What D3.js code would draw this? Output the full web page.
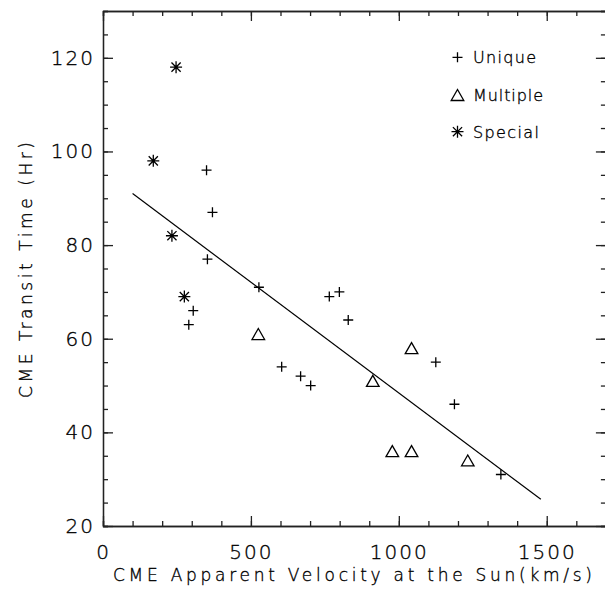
<!DOCTYPE html>
<html>
<head>
<meta charset="utf-8">
<script src="https://cdn.jsdelivr.net/npm/d3@7"></script>
<style>
body { margin: 0; background: #fff; }
text { font-family: "DejaVu Sans", sans-serif; font-weight: 200; fill: #000; stroke: #000; stroke-width: 0.35; }
.axis path, .axis line { stroke: #222; stroke-width: 1.3; }
</style>
</head>
<body>
<script>
// velocities (km/s) and transit times (hr)
var uniqueVel = [350, 370, 353, 527, 305, 290, 604, 668, 702, 765, 799, 829, 1125, 1188, 1345];
var uniqueHr  = [96, 87, 77, 71, 66, 63, 54, 52, 50, 69, 70, 64, 55, 46, 31];
var multipleVel = [525, 912, 1043, 978, 1043, 1233];
var multipleHr  = [61, 51, 58, 36, 36, 34];
var specialVel = [247, 170, 233, 275];
var specialHr  = [118, 98, 82, 69];
// fitted line end points
var fitVel = [100, 1480];
var fitHr  = [91, 25.7];

var xMajor = [0, 500, 1000, 1500];
var yMajor = [20, 40, 60, 80, 100, 120];
var legendNames = ["Unique", "Multiple", "Special"];

var margin = {top: 11, right: -1, bottom: 71, left: 103},
    width = 605.9 - margin.left,
    height = 526 - margin.top;

var x = d3.scaleLinear().domain([0, 1700]).range([0, width]),
    y = d3.scaleLinear().domain([20, 130]).range([height, 0]);

var svg = d3.select("body").append("svg")
    .attr("width", 605)
    .attr("height", 597)
  .append("g")
    .attr("transform", "translate(" + margin.left + "," + margin.top + ")");

var symbols = {
  Unique: "M-5,0H5M0,-5V5",
  Multiple: "M-6.3,5.5L0,-5.5L6.3,5.5Z",
  Special: "M-6,0H6M0,-6V6M-4.6,-4.6L4.6,4.6M-4.6,4.6L4.6,-4.6"
};

function styleAxis(g) {
  g.attr("class", "axis");
  g.selectAll("text").style("font-size", "20px").style("letter-spacing", "2px");
}

var xMinor = d3.range(0, 1701, 100), yMinor = d3.range(20, 131, 5);

// bottom / top
svg.append("g").attr("transform", "translate(0," + height + ")")
    .call(d3.axisBottom(x).tickValues(xMinor).tickSize(-5).tickFormat(""))
    .call(styleAxis);
svg.append("g").attr("transform", "translate(0," + height + ")")
    .call(d3.axisBottom(x).tickValues(xMajor).tickSize(-10).tickSizeOuter(0).tickPadding(19).tickFormat(d3.format("d")))
    .call(styleAxis);
svg.append("g")
    .call(d3.axisTop(x).tickValues(xMinor).tickSize(-5).tickFormat(""))
    .call(styleAxis);
svg.append("g")
    .call(d3.axisTop(x).tickValues(xMajor).tickSize(-10).tickSizeOuter(0).tickFormat(""))
    .call(styleAxis);

// left / right
svg.append("g")
    .call(d3.axisLeft(y).tickValues(yMinor).tickSize(-5).tickFormat(""))
    .call(styleAxis);
svg.append("g")
    .call(d3.axisLeft(y).tickValues(yMajor).tickSize(-10).tickSizeOuter(0).tickPadding(8).tickFormat(d3.format("d")))
    .call(styleAxis);
svg.append("g").attr("transform", "translate(" + width + ",0)")
    .call(d3.axisRight(y).tickValues(yMinor).tickSize(-5).tickFormat(""))
    .call(styleAxis);
svg.append("g").attr("transform", "translate(" + width + ",0)")
    .call(d3.axisRight(y).tickValues(yMajor).tickSize(-10).tickSizeOuter(0).tickFormat(""))
    .call(styleAxis);

// axis titles
svg.append("text")
    .attr("x", 352.5 - margin.left)
    .attr("y", 580.5 - margin.top)
    .attr("text-anchor", "middle")
    .attr("textLength", 479)
    .attr("lengthAdjust", "spacing")
    .style("font-size", "17px")
    .text("CME Apparent Velocity at the Sun(km/s)");

svg.append("text")
    .attr("transform", "translate(" + (32 - margin.left) + "," + (270 - margin.top) + ") rotate(-90)")
    .attr("text-anchor", "middle")
    .attr("textLength", 256)
    .attr("lengthAdjust", "spacing")
    .style("font-size", "17px")
    .text("CME Transit Time (Hr)");

// fitted line
var line = d3.line().x(function(d) { return x(d[0]); }).y(function(d) { return y(d[1]); });
svg.append("path")
    .datum(d3.zip(fitVel, fitHr))
    .attr("d", line)
    .attr("fill", "none")
    .attr("stroke", "#000")
    .attr("stroke-width", 1.2);

// points
function drawPoints(vel, hr, name) {
  svg.append("g").selectAll("path")
      .data(d3.zip(vel, hr))
    .enter().append("path")
      .attr("transform", function(d) { return "translate(" + x(d[0]) + "," + y(d[1]) + ")"; })
      .attr("d", symbols[name])
      .attr("fill", "none")
      .attr("stroke", "#000")
      .attr("stroke-width", 1.3);
}
drawPoints(uniqueVel, uniqueHr, "Unique");
drawPoints(multipleVel, multipleHr, "Multiple");
drawPoints(specialVel, specialHr, "Special");

// legend
var legendY = [57.3, 95, 131.7], legendLen = [63, 70, 66];
var legend = svg.append("g").selectAll("g")
    .data(legendNames)
  .enter().append("g")
    .attr("transform", function(d, i) { return "translate(" + (457.5 - margin.left) + "," + (legendY[i] - margin.top) + ")"; });
legend.append("path")
    .attr("d", function(d) { return symbols[d]; })
    .attr("fill", "none")
    .attr("stroke", "#000")
    .attr("stroke-width", 1.3);
legend.append("text")
    .attr("x", 15.5)
    .attr("y", 6)
    .attr("textLength", function(d, i) { return legendLen[i]; })
    .attr("lengthAdjust", "spacing")
    .style("font-size", "16px")
    .text(function(d) { return d; });
</script>
</body>
</html>
